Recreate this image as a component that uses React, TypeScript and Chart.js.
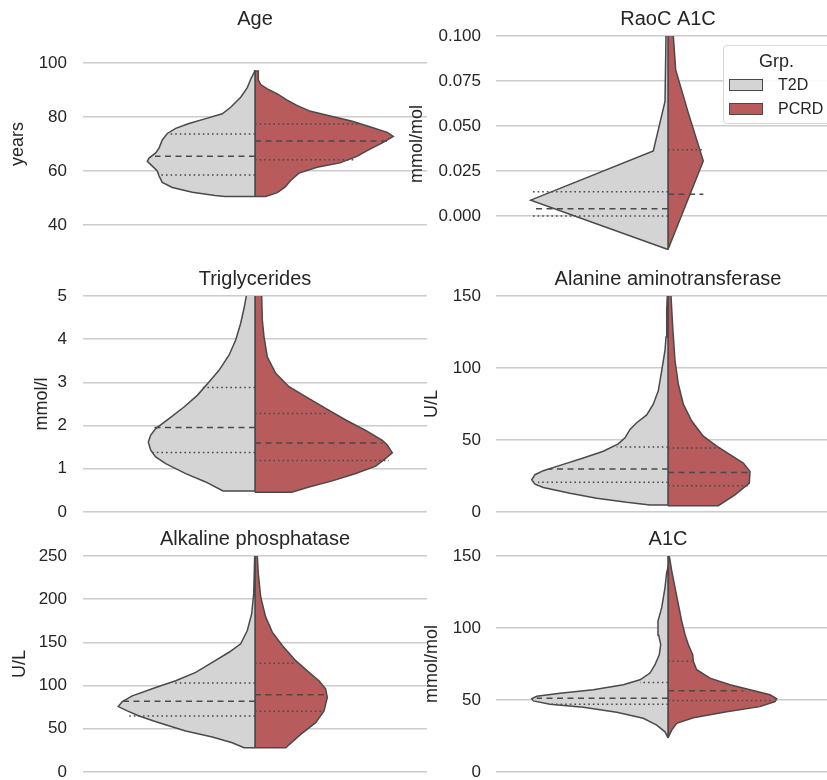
import React, { useEffect, useRef } from "react";
import { Chart, registerables } from "chart.js";

Chart.register(...registerables);

// ---------------- DATA ----------------
// Each contour entry is [value, density]; density in arbitrary units (same scale for every panel).
type Pair = [number, number];
type Quart = { q1: Pair | null; median: Pair | null; q3: Pair | null };

const groups = ["T2D", "PCRD"];
const legendTitle = "Grp.";

// Age (years)
const ageTicks = [40, 60, 80, 100];
const ageTickLabels = ["40", "60", "80", "100"];
const ageRange: Pair = [30, 110];
const ageT2D: Pair[] = [
  [50.6, 30], [50.9, 40], [52.1, 62.7], [53.9, 82.7], [55.8, 92.7], [58.2, 96], [60, 97.7],
  [61.8, 102.7], [63.6, 107.7], [64.8, 106], [66.7, 99.3], [68.5, 96], [71.5, 92.7],
  [73.9, 87.7], [75.8, 79.3], [77.6, 66], [79.4, 49.3], [81.2, 32.7], [83.6, 24.3],
  [87.3, 14.3], [90.9, 7.7], [94, 4.3], [96.4, 1], [97, 0.5],
];
const agePCRD: Pair[] = [
  [50.6, 10.7], [52, 22.3], [54, 30], [56.5, 35.7], [59.2, 44], [61.4, 62], [63, 85],
  [65.4, 102], [67.9, 114], [70.4, 127.3], [72.8, 138.3], [74.3, 132.3], [76.5, 114],
  [78.4, 97.3], [80.2, 77.3], [82.1, 55.7], [84.2, 42.3], [86.4, 31.3], [88.6, 22.3],
  [90.4, 12.3], [92, 5.7], [93.8, 3.3], [97, 3.3],
];
const ageT2DQuart: Quart = { q1: [58.5, 96.5], median: [65.5, 100], q3: [73.7, 86] };
const agePCRDQuart: Quart = { q1: [64.2, 99], median: [71.1, 134], q3: [77.4, 105.7] };

// RaoC A1C (mmol/mol)
const raocTicks = [0, 0.025, 0.05, 0.075, 0.1];
const raocTickLabels = ["0.000", "0.025", "0.050", "0.075", "0.100"];
const raocRange: Pair = [-0.02, 0.1];
const raocT2D: Pair[] = [
  [-0.0186, 0], [0.0088, 137.3], [0.0361, 14.7], [0.0637, 3], [0.1, 2], [0.13, 2],
];
const raocPCRD: Pair[] = [
  [-0.0186, 0], [0.0306, 35.3], [0.0573, 20.3], [0.0812, 7.7], [0.1, 5.3], [0.13, 4.7],
];
const raocT2DQuart: Quart = { q1: [0.0, 135.3], median: [0.00405, 135.3], q3: [0.01344, 135.3] };
const raocPCRDQuart: Quart = { q1: null, median: [0.01215, 35.3], q3: [0.0368, 34.7] };

// Triglycerides (mmol/l)
const trigTicks = [0, 1, 2, 3, 4, 5];
const trigTickLabels = ["0", "1", "2", "3", "4", "5"];
const trigRange: Pair = [0, 5];
const trigT2D: Pair[] = [
  [0.487, 32], [0.696, 49.3], [0.889, 69.3], [1.12, 89.3], [1.275, 99.3], [1.43, 104.3],
  [1.62, 106.7], [1.78, 104.3], [1.93, 99.3], [2.16, 86], [2.43, 71], [2.7, 57.7], [3.01, 46],
  [3.28, 36], [3.63, 26], [3.98, 19.3], [4.37, 14.3], [4.71, 11], [5.0, 8.7], [6.0, 4],
];
const trigPCRD: Pair[] = [
  [0.46, 36.7], [0.58, 54], [0.72, 77.3], [0.89, 100.7], [1.06, 120.7], [1.24, 130.7],
  [1.37, 137.3], [1.55, 132.3], [1.66, 127.3], [1.89, 110.7], [2.13, 90.7], [2.4, 70.7],
  [2.67, 50.7], [2.9, 34], [3.21, 20.7], [3.59, 12.3], [4.06, 9], [4.44, 7.3], [5.0, 6.7], [6.0, 5],
];
const trigT2DQuart: Quart = { q1: [1.38, 103.3], median: [1.955, 102], q3: [2.88, 54.3] };
const trigPCRDQuart: Quart = { q1: [1.19, 134], median: [1.6, 127.3], q3: [2.28, 74] };

// Alanine aminotransferase (U/L)
const altTicks = [0, 50, 100, 150];
const altTickLabels = ["0", "50", "100", "150"];
const altRange: Pair = [0, 150];
const altT2D: Pair[] = [
  [4.9, 18], [6.7, 41.3], [9.5, 71.3], [13, 98], [17, 124.7], [19.3, 133], [22.4, 136.3],
  [25.9, 133], [28.7, 124.7], [32.4, 108], [37.5, 84.7], [42.2, 64.7], [47.3, 49.7],
  [51.5, 43], [57.4, 38], [62, 31.3], [67.4, 21.3], [74.9, 14.7], [84.2, 9.7], [98.2, 6.3],
  [112.2, 3], [121.5, 2], [140.2, 1.3], [150, 0.7], [170, 0.5],
];
const altPCRD: Pair[] = [
  [4.4, 50.3], [11.9, 67], [20, 81.3], [28.2, 82], [34, 75.3], [39.9, 62], [45.7, 48.7],
  [52.7, 35.3], [63.2, 23.7], [74.9, 15.3], [88.9, 10.3], [105.2, 7], [128.5, 4.7], [150, 3],
  [170, 2],
];
const altT2DQuart: Quart = { q1: [20.7, 130], median: [29.8, 119.7], q3: [45.2, 51.3] };
const altPCRDQuart: Quart = { q1: [18.2, 80.3], median: [27.5, 80.3], q3: [44.5, 53.7] };

// Alkaline phosphatase (U/L)
const alpTicks = [0, 50, 100, 150, 200, 250];
const alpTickLabels = ["0", "50", "100", "150", "200", "250"];
const alpRange: Pair = [0, 250];
const alpT2D: Pair[] = [
  [28, 11], [33.8, 22.7], [40.4, 42.7], [47.4, 69.3], [57.1, 96], [64.8, 116], [70.7, 127.7],
  [75.7, 136.7], [81.5, 132.7], [88.1, 122.7], [97.8, 99.3], [105.6, 79.3], [115.3, 59.3],
  [126.9, 42.7], [138.6, 26], [148.3, 14.3], [163.8, 7.7], [183.2, 3.3], [206.5, 1.3],
  [250, 0.3], [270, 0.2],
];
const alpPCRD: Pair[] = [
  [28, 30.7], [43.5, 45.7], [57.1, 60.7], [70.7, 69], [86.2, 72.3], [95.9, 70.7], [105.6, 64],
  [115.3, 54], [128.9, 40.7], [146.4, 27.3], [161.9, 17.3], [179.3, 10.7], [202.6, 5.7],
  [229.8, 3.3], [250, 2.3], [270, 2],
];
const alpT2DQuart: Quart = { q1: [64.8, 126], median: [81.9, 132], q3: [102.9, 82.7] };
const alpPCRDQuart: Quart = { q1: [70.3, 69], median: [89.3, 71.7], q3: [125.8, 39] };

// A1C (mmol/mol)
const a1cTicks = [0, 50, 100, 150];
const a1cTickLabels = ["0", "50", "100", "150"];
const a1cRange: Pair = [0, 150];
const a1cT2D: Pair[] = [
  [23.7, 0], [27.9, 3], [32.6, 11.3], [37.3, 24.7], [41.5, 51.3], [44.9, 84.7], [47, 118],
  [49.4, 134.7], [50.8, 136.3], [52.6, 131.3], [54.7, 108], [57.1, 74.7], [60.6, 44.7],
  [64, 28], [68.7, 18], [74.5, 13], [81.5, 8.7], [88.5, 7.3], [95, 9.3], [104.8, 10],
  [114.1, 6.3], [128.1, 3], [138.6, 1.3], [142.1, 0],
];
const a1cPCRD: Pair[] = [
  [23.7, 0], [29.1, 3.7], [33.8, 8.7], [37.7, 25.3], [41.9, 58.7], [45.4, 92], [48.9, 107],
  [50.8, 108.7], [53.6, 102], [57.1, 82], [60.6, 62], [65.2, 42], [71, 28.7], [76.9, 25.3],
  [81.5, 24.7], [88.5, 20.3], [95.5, 17], [104.8, 13.7], [116.5, 10.3], [128.1, 7],
  [139.8, 3.7], [150, 1.3], [160, 0.5],
];
const a1cT2DQuart: Quart = { q1: [47, 118], median: [51.2, 131.3], q3: [62.2, 28] };
const a1cPCRDQuart: Quart = { q1: [49.6, 105.3], median: [56.4, 75.3], q3: [76.9, 23.7] };

// ---------------- STYLE / LAYOUT ----------------
const FONT = "'Liberation Sans', Arial, Helvetica, sans-serif";
const TEXT = "#262626";
const GRID = "#cccccc";
const EDGE = "#4a4a4a";
const T2D_FILL = "#d4d4d4";
const PCRD_FILL = "#b75b5d";
const DENSITY_HALF = 172;

type PanelSpec = {
  title: string;
  yTitle: string;
  yTitlePad: number;
  range: Pair;
  ticks: number[];
  tickLabels: string[];
  t2d: Pair[];
  pcrd: Pair[];
  t2dQ: Quart;
  pcrdQ: Quart;
  col: number;
  row: number;
};

const panels: PanelSpec[] = [
  { title: "Age", yTitle: "years", yTitlePad: 6.8, range: ageRange, ticks: ageTicks, tickLabels: ageTickLabels, t2d: ageT2D, pcrd: agePCRD, t2dQ: ageT2DQuart, pcrdQ: agePCRDQuart, col: 0, row: 0 },
  { title: "RaoC A1C", yTitle: "mmol/mol", yTitlePad: 6.7, range: raocRange, ticks: raocTicks, tickLabels: raocTickLabels, t2d: raocT2D, pcrd: raocPCRD, t2dQ: raocT2DQuart, pcrdQ: raocPCRDQuart, col: 1, row: 0 },
  { title: "Triglycerides", yTitle: "mmol/l", yTitlePad: 31.7, range: trigRange, ticks: trigTicks, tickLabels: trigTickLabels, t2d: trigT2D, pcrd: trigPCRD, t2dQ: trigT2DQuart, pcrdQ: trigPCRDQuart, col: 0, row: 1 },
  { title: "Alanine aminotransferase", yTitle: "U/L", yTitlePad: 21.2, range: altRange, ticks: altTicks, tickLabels: altTickLabels, t2d: altT2D, pcrd: altPCRD, t2dQ: altT2DQuart, pcrdQ: altPCRDQuart, col: 1, row: 1 },
  { title: "Alkaline phosphatase", yTitle: "U/L", yTitlePad: 8.9, range: alpRange, ticks: alpTicks, tickLabels: alpTickLabels, t2d: alpT2D, pcrd: alpPCRD, t2dQ: alpT2DQuart, pcrdQ: alpPCRDQuart, col: 0, row: 2 },
  { title: "A1C", yTitle: "mmol/mol", yTitlePad: 21.2, range: a1cRange, ticks: a1cTicks, tickLabels: a1cTickLabels, t2d: a1cT2D, pcrd: a1cPCRD, t2dQ: a1cT2DQuart, pcrdQ: a1cPCRDQuart, col: 1, row: 2 },
];

const COLS = [
  { left: 0, width: 427, axisWidth: 83, tickPad: 16 },
  { left: 400, width: 440, axisWidth: 96, tickPad: 15 },
];
const ROW_PITCH = 260;
const CANVAS_H = 262;

function halfViolin(contour: Pair[], sign: number) {
  const lo = contour[0][0];
  const hi = contour[contour.length - 1][0];
  return [
    { x: 0, y: lo },
    ...contour.map(([v, d]) => ({ x: sign * d, y: v })),
    { x: 0, y: hi },
    { x: 0, y: lo },
  ];
}

function quartileSets(q: Quart, sign: number) {
  const out: any[] = [];
  const add = (p: Pair | null, dash: number[]) => {
    if (!p) return;
    out.push({
      type: "line",
      order: 0,
      data: [
        { x: 0, y: p[0] },
        { x: sign * p[1], y: p[0] },
      ],
      borderColor: EDGE,
      borderWidth: 1.5,
      borderDash: dash,
      pointRadius: 0,
      fill: false,
      tension: 0,
    });
  };
  add(q.q1, [1.6, 3]);
  add(q.median, [6, 4.5]);
  add(q.q3, [1.6, 3]);
  return out;
}

function Panel({ spec }: { spec: PanelSpec }) {
  const ref = useRef<HTMLCanvasElement>(null);
  const col = COLS[spec.col];
  useEffect(() => {
    const datasets: any[] = [
      {
        label: groups[0],
        order: 10,
        data: halfViolin(spec.t2d, -1),
        backgroundColor: T2D_FILL,
        borderColor: EDGE,
        borderWidth: 1.5,
        pointRadius: 0,
        fill: "shape",
        tension: 0,
      },
      {
        label: groups[1],
        order: 10,
        data: halfViolin(spec.pcrd, 1),
        backgroundColor: PCRD_FILL,
        borderColor: EDGE,
        borderWidth: 1.5,
        pointRadius: 0,
        fill: "shape",
        tension: 0,
      },
      ...quartileSets(spec.t2dQ, -1),
      ...quartileSets(spec.pcrdQ, 1),
    ];
    const chart = new Chart(ref.current!, {
      type: "line",
      data: { datasets },
      options: {
        responsive: false,
        animation: false,
        events: [],
        layout: { padding: { top: 0, left: 0, right: 0, bottom: 10 } },
        plugins: {
          legend: { display: false },
          tooltip: { enabled: false },
          title: {
            display: true,
            text: spec.title,
            fullSize: false,
            color: TEXT,
            font: { family: FONT, size: 20, weight: "normal", lineHeight: 1.2 },
            padding: { top: 7.1, bottom: 4.9 },
          },
        },
        scales: {
          x: {
            type: "linear",
            min: -DENSITY_HALF,
            max: DENSITY_HALF,
            display: false,
          },
          y: {
            type: "linear",
            min: spec.range[0],
            max: spec.range[1],
            afterBuildTicks: (s: any) => {
              s.ticks = spec.ticks.map((v) => ({ value: v }));
            },
            afterFit: (s: any) => {
              s.width = col.axisWidth;
              s.paddingTop = 0;
              s.paddingBottom = 0;
            },
            grid: { color: GRID, lineWidth: 1.5, drawTicks: false },
            border: { display: false },
            ticks: {
              color: TEXT,
              padding: col.tickPad,
              font: { family: FONT, size: 17 },
              callback: (_v: any, i: number) => spec.tickLabels[i],
            },
            title: {
              display: true,
              text: spec.yTitle,
              color: TEXT,
              font: { family: FONT, size: 18, lineHeight: 1.2 },
              padding: { top: spec.yTitlePad, bottom: 0 },
            },
          },
        },
      } as any,
    });
    return () => chart.destroy();
  }, []);
  return (
    <canvas
      ref={ref}
      width={col.width}
      height={CANVAS_H}
      style={{
        position: "absolute",
        left: col.left,
        top: spec.row * ROW_PITCH,
        width: col.width,
        height: CANVAS_H,
      }}
    />
  );
}

function Legend() {
  const swatch = (color: string, top: number) => (
    <div
      style={{
        position: "absolute",
        left: 729,
        top,
        width: 34,
        height: 12,
        background: color,
        border: `1px solid ${EDGE}`,
        boxSizing: "border-box",
      }}
    />
  );
  const label = (text: string, cy: number, size: number, left: number) => (
    <div
      style={{
        position: "absolute",
        left,
        top: cy - 12,
        height: 24,
        display: "flex",
        alignItems: "center",
        fontFamily: FONT,
        fontSize: size,
        color: TEXT,
        whiteSpace: "nowrap",
      }}
    >
      {text}
    </div>
  );
  return (
    <>
      <div
        style={{
          position: "absolute",
          left: 723,
          top: 45,
          width: 130,
          height: 79,
          border: "1px solid #d6d6d6",
          borderRadius: 4,
          background: "rgba(255,255,255,0.85)",
          boxSizing: "border-box",
        }}
      />
      {label(legendTitle, 61, 18, 759)}
      {swatch(T2D_FILL, 79)}
      {label(groups[0], 85, 16, 778)}
      {swatch(PCRD_FILL, 103)}
      {label(groups[1], 109, 16, 778)}
    </>
  );
}

export default function App() {
  return (
    <div
      style={{
        position: "absolute",
        left: 0,
        top: 0,
        width: 827,
        height: 780,
        overflow: "hidden",
        background: "#ffffff",
      }}
    >
      {panels.map((p) => (
        <Panel key={p.title} spec={p} />
      ))}
      <Legend />
    </div>
  );
}
